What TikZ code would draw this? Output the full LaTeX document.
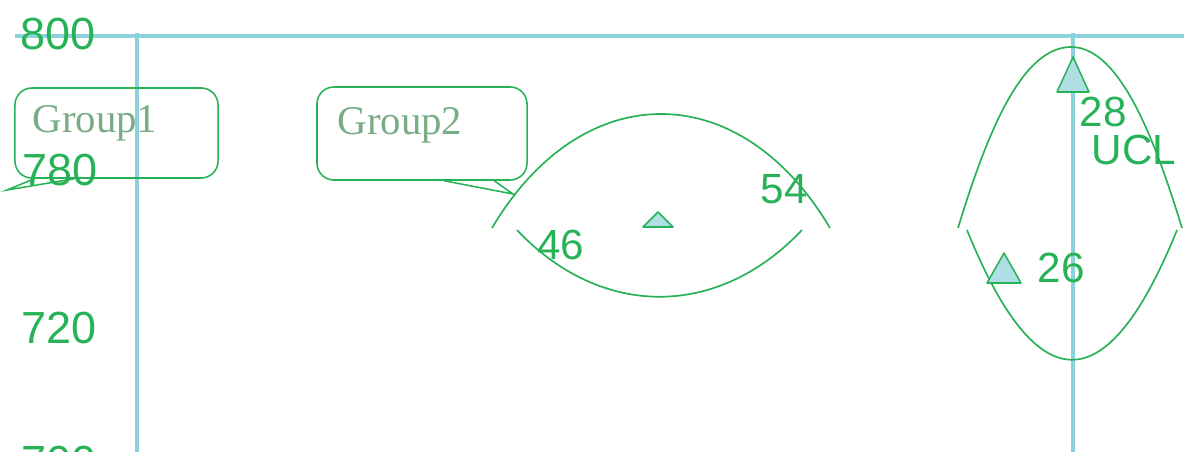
\documentclass[tikz,border=0pt]{standalone}
\usepackage{fontspec}
\setmainfont{Liberation Serif}
\setsansfont{Liberation Sans}
\usepackage{tikz}
\definecolor{ctrlgreen}{RGB}{40,178,88}
\definecolor{gridblue}{RGB}{140,210,218}
\definecolor{labelgreen}{RGB}{120,172,132}

\begin{document}
\begin{tikzpicture}[x=0.025cm, y=-0.025cm,
  every node/.style={font=\sffamily\fontsize{30}{36}\selectfont, text=ctrlgreen, inner sep=0pt},
  axisnum/.style={font=\sffamily\fontsize{32}{38}\selectfont},
  arc/.style={ctrlgreen, line width=1.2pt},
  grid/.style={gridblue, line width=2.2pt},
  marker/.style={draw=ctrlgreen, fill=gridblue!70, line width=1.1pt, line join=round},
  groupbox/.style={draw=ctrlgreen, line width=1.1pt, rounded corners=12pt},
  grouplabel/.style={font=\rmfamily\fontsize{29}{34}\selectfont, text=labelgreen},
  tail/.style={ctrlgreen, line width=1.1pt}]
  \useasboundingbox (0,0) rectangle (1184,452);
  \clip (0,0) rectangle (1184,452);
  % grid lines
  \draw[grid] (15,36) -- (1184,36);
  \draw[grid] (137,33) -- (137,452);
  \draw[grid] (1073,33) -- (1073,452);
  % axis numbers
  \node[axisnum] (y800) at (58,34) {800};
  \node[axisnum] (y780) at (60,170) {780};
  \node[axisnum] (y720) at (59,328) {720};
  \node[axisnum] (y700) at (59,462) {700};
  % group callouts
  \node[groupbox, minimum width=5.075cm, minimum height=2.25cm] (g1box) at (116.5,133) {};
  \node[grouplabel] (g1) at (95,123) {Group1};
  \coordinate (g1tip) at (7,190);
  \coordinate (g1a) at ([xshift=0.5cm]g1box.south west);
  \coordinate (g1b) at ([xshift=1.5cm]g1box.south west);
  \draw[tail] (g1a) -- (g1tip) -- (g1b);
  \node[groupbox, minimum width=5.25cm, minimum height=2.325cm] (g2box) at (422,133.5) {};
  \node[grouplabel] (g2) at (400,125) {Group2};
  \coordinate (g2tip) at (513,194);
  \coordinate (g2a) at ([xshift=3.2cm]g2box.south west);
  \coordinate (g2b) at ([xshift=4.45cm]g2box.south west);
  \draw[tail] (g2a) -- (g2tip) -- (g2b);
  % middle lens
  \draw[arc] (492,228) .. controls (582,76) and (740,76) .. (830,228);
  \draw[arc] (517,230) .. controls (601,319) and (718,319) .. (802,230);
  \draw[marker] (658,212) -- (673,227) -- (643,227) -- cycle;
  \node (n46) at (561,245) {46};
  \node (n54) at (784,189) {54};
  % right oval
  \draw[arc] (958,228) .. controls (985,140) and (1020,47) .. (1071,47)
    .. controls (1120,47) and (1155,140) .. (1182,228);
  \draw[arc] (967,230) .. controls (1037,403) and (1107,403) .. (1177,230);
  \draw[marker] (1073,57) -- (1089,92) -- (1057,92) -- cycle;
  \draw[marker] (1004,253) -- (1021,283) -- (987,283) -- cycle;
  \node (n28) at (1103,112) {28};
  \node (ucl) at (1134,150) {UCL};
  \node (n26) at (1061,268) {26};
\end{tikzpicture}
\end{document}
